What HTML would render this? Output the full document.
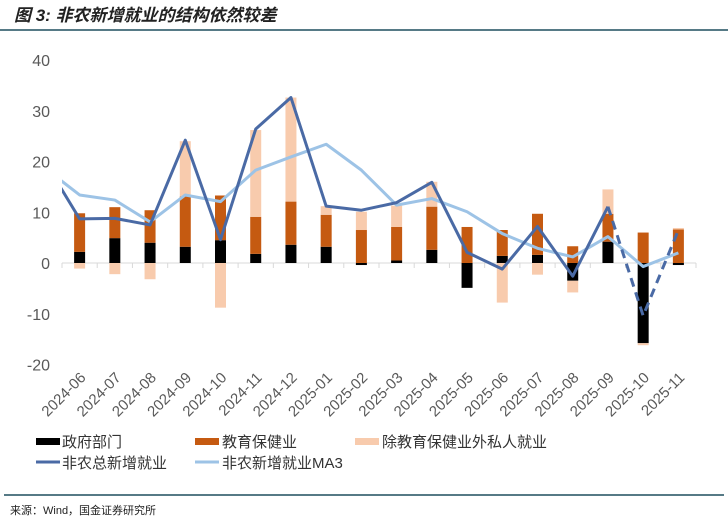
<!DOCTYPE html>
<html><head><meta charset="utf-8"><style>
body{margin:0;background:#fff;width:728px;height:524px;overflow:hidden;font-family:"Liberation Sans","Noto Sans CJK SC",sans-serif}
svg text{font-family:"Liberation Sans","Noto Sans CJK SC",sans-serif}
</style></head><body>
<svg id="c" width="728" height="524">
<text x="14" y="21" font-size="17" font-weight="bold" font-style="italic" fill="#222">图 3: 非农新增就业的结构依然较差</text>
<line x1="0" y1="30" x2="728" y2="30" stroke="#1f4e5f" stroke-width="1.5"/>
<g id="plot"></g>
<g>
<rect x="36" y="438" width="24" height="7" fill="#000"/>
<text x="62" y="447" font-size="15" fill="#333">政府部门</text>
<rect x="195" y="438" width="24" height="7" fill="#c55a11"/>
<text x="222" y="447" font-size="15" fill="#333">教育保健业</text>
<rect x="355" y="438" width="24" height="7" fill="#f8cbad"/>
<text x="382" y="447" font-size="15" fill="#333">除教育保健业外私人就业</text>
<line x1="36" y1="462" x2="60" y2="462" stroke="#4a6aa5" stroke-width="3"/>
<text x="62" y="468" font-size="15" fill="#333">非农总新增就业</text>
<line x1="195" y1="462" x2="219" y2="462" stroke="#9dc3e6" stroke-width="3"/>
<text x="222" y="468" font-size="15" fill="#333">非农新增就业MA3</text>
</g>
<line x1="4" y1="495" x2="724" y2="495" stroke="#1f4e5f" stroke-width="1.5"/>
<text x="10" y="514" font-size="11" fill="#222">来源：Wind，国金证券研究所</text>
</svg>
<script>
const categories=["2024-06","2024-07","2024-08","2024-09","2024-10","2024-11","2024-12","2025-01","2025-02","2025-03","2025-04","2025-05","2025-06","2025-07","2025-08","2025-09","2025-10","2025-11"];
const gov=[2.2,4.9,4.0,3.2,4.5,1.8,3.6,3.2,-0.4,0.5,2.6,-4.9,1.4,1.6,-3.5,4.2,-15.8,-0.4];
const edu=[7.6,6.1,6.4,9.9,8.8,7.3,8.5,6.3,6.5,6.6,8.5,7.1,5.1,8.1,3.3,5.5,6.0,6.6];
const other=[-1.1,-2.2,-3.2,10.9,-8.8,17.1,20.5,1.7,3.6,4.2,4.9,0,-7.8,-2.3,-2.3,4.8,-0.4,0.3];
const total=[8.7,8.8,7.5,24.2,4.6,26.4,32.6,11.2,10.4,11.9,15.9,2.1,-1.2,7.2,-2.6,11.1,-10.4,6.5];
const ma3=[13.4,12.4,8.1,13.4,12.1,18.3,20.9,23.4,18.3,11.4,12.7,10.1,5.8,2.9,1.2,5.2,-0.7,2.0];
const prevTotal=20.1, prevMa3=18.8;
const yTicks=[40,30,20,10,0,-10,-20];
const NS="http://www.w3.org/2000/svg";
const X0=62,X1=696,Y0=263,PX=5.075;
const step=(X1-X0)/categories.length;
const xs=i=>X0+step*(i+0.5);
const ys=v=>Y0-v*PX;
const g=document.getElementById('plot');
function mk(t,a){const e=document.createElementNS(NS,t);for(const k in a)e.setAttribute(k,a[k]);g.appendChild(e);return e;}
yTicks.forEach(t=>{const e=mk('text',{x:50,y:ys(t)+6,'text-anchor':'end','font-size':16,fill:'#595959'});e.textContent=t;

});
const ax=mk('line',{x1:X0,x2:X1,y1:Y0,y2:Y0,stroke:'#d9d9d9','stroke-width':1});


for(let i=0;i<=categories.length;i++){const t=mk('line',{x1:X0+step*i,x2:X0+step*i,y1:Y0,y2:Y0+5,stroke:'#d9d9d9'});

}
const bw=11;
categories.forEach((c,i)=>{
 let pos=0,neg=0;
 [[gov,'#000','bar-gov'],[edu,'#c55a11','bar-edu'],[other,'#f8cbad','bar-other']].forEach(([arr,col,nm])=>{
  const v=arr[i];let a,b;
  if(v>=0){a=pos;b=pos+v;pos=b;}else{a=neg;b=neg+v;neg=b;}
  const r=mk('rect',{x:xs(i)-bw/2,y:Math.min(ys(a),ys(b)),width:bw,height:Math.abs(ys(a)-ys(b)),fill:col});
  
  
 });
 const tx=xs(i)+7,ty=ys(-20)+14;
 const l=mk('text',{x:tx,y:ty,'text-anchor':'end','font-size':15,fill:'#595959',transform:`rotate(-45 ${tx} ${ty})`});
 l.textContent=c;
 
 
});
mk('clipPath',{id:'cp'}).appendChild(document.createElementNS(NS,'rect'));
const cr=document.querySelector('#cp rect');cr.setAttribute('x',X0);cr.setAttribute('y',30);cr.setAttribute('width',X1-X0+20);cr.setAttribute('height',400);
function line(arr,prev,from,to,col,dash,nm){
 let pts=[];if(from===0)pts.push([xs(-1),ys(prev)]);
 for(let i=from;i<=to;i++)pts.push([xs(i),ys(arr[i])]);
 const p=mk('polyline',{points:pts.map(p=>p.join(',')).join(' '),fill:'none',stroke:col,'stroke-width':3,'stroke-linejoin':'round','clip-path':'url(#cp)'});
 if(dash)p.setAttribute('stroke-dasharray','9,6');
 
 
}
line(ma3,prevMa3,0,ma3.length-1,'#9dc3e6',false,'line-ma3');
line(total,prevTotal,0,15,'#4a6aa5',false,'line-total');
line(total,0,15,17,'#4a6aa5',true,'line-total-projected');
</script>
</body></html>
